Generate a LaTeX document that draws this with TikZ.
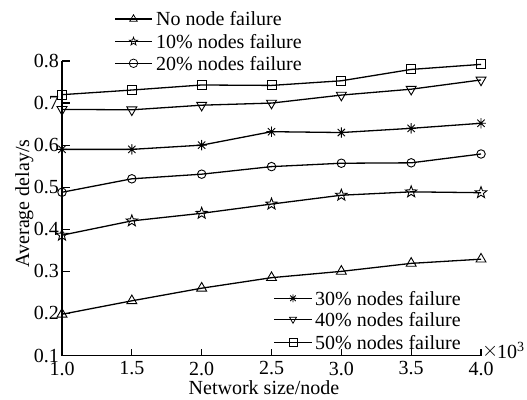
\documentclass[tikz,border=0pt]{standalone}
\usepackage{fontspec}
\setmainfont{Liberation Serif}
\usetikzlibrary{shapes.geometric}
\tikzset{
  mk/.style={draw, inner sep=0pt, line width=0.9pt},
  tri/.style={mk, regular polygon, regular polygon sides=3, minimum size=#1},
  tri/.default=11.5pt,
  dtri/.style={tri=#1, shape border rotate=180},
  dtri/.default=11.5pt,
  sq/.style={mk, rectangle, minimum size=#1},
  sq/.default=9pt,
  circ/.style={mk, circle, minimum size=#1},
  circ/.default=8.5pt,
  pent/.style={mk, star, star points=5, star point ratio=2.4, minimum size=#1},
  pent/.default=12pt,
  ast/.style={inner sep=0pt, circle, minimum size=#1,
    path picture={\draw[line width=0.9pt]
      (path picture bounding box.north) -- (path picture bounding box.south)
      (path picture bounding box.north east) -- (path picture bounding box.south west)
      (path picture bounding box.north west) -- (path picture bounding box.south east)
      (path picture bounding box.west) -- (path picture bounding box.east);}},
  ast/.default=10.5pt,
  keymark/.style={line width=0.75pt},
  series/.style={line width=1.3pt},
  axisline/.style={line width=1.3pt},
  lab/.style={font=\fontsize{20}{23}\selectfont, inner sep=0pt},
}
\begin{document}
\begin{tikzpicture}
\useasboundingbox (0pt,0pt) rectangle (527pt,-399pt);

% plot area: network size (x10^3) against average delay
\begin{scope}[x=139.67pt, y=420.7pt, shift={(-77.67pt,-397.57pt)}]
  \coordinate (o) at (1,0.1);
  \coordinate (xend) at (4,0.1);
  \coordinate (yend) at (1,0.8);
  \draw[axisline] (yend) -- (o) -- (xend);

  % ticks and tick labels
  \foreach \v [count=\i] in {0.1,0.2,0.3,0.4,0.5,0.6,0.7,0.8} {
    \draw[axisline] (1,\v) -- ++(8pt,0pt);
    \node[lab, anchor=east, xshift=-3pt] (yl\i) at (1,\v) {\v};
  }
  \foreach \v [count=\i] in {1.0,1.5,2.0,2.5,3.0,3.5,4.0} {
    \draw[axisline] (\v,0.1) -- ++(0pt,7pt);
    \node[lab, anchor=north, yshift=-6pt] (xl\i) at (\v,0.1) {\v};
  }

  % data series
  \foreach \s/\m/\vals in {
      a/tri/{0.198,0.230,0.260,0.285,0.300,0.319,0.329},
      b/pent/{0.386,0.420,0.438,0.460,0.481,0.489,0.487},
      c/circ/{0.488,0.520,0.531,0.549,0.557,0.558,0.579},
      d/ast/{0.590,0.590,0.600,0.632,0.630,0.640,0.652},
      e/dtri/{0.685,0.684,0.695,0.700,0.719,0.733,0.755},
      f/sq/{0.720,0.731,0.743,0.742,0.753,0.780,0.792}} {
    \foreach \v [count=\i] in \vals {
      \pgfmathsetmacro\xx{0.5+0.5*\i}
      \node[\m] (\s\i) at (\xx,\v) {};
    }
    \draw[series] (\s1.center) \foreach \i in {2,...,7} {-- (\s\i.center)};
  }
\end{scope}

% axis multiplier
\node[lab, anchor=west] (times) at (482pt,-351pt) {$\times$};
\node[lab, anchor=west] (mult) at (497pt,-350.5pt) {10\textsuperscript{3}};
\node[lab, anchor=base] (xtitle) at (264pt,-394pt) {Network size/node};
\node[lab, anchor=base, rotate=90] (ytitle) at (29pt,-203.5pt) {Average delay/s};

% upper legend
\foreach \i/\m/\t/\y in {1/tri/No node failure/19,
                         2/pent/10\% nodes failure/41.5,
                         3/circ/20\% nodes failure/63.3} {
  \coordinate (lu\i a) at (115pt,-\y pt);
  \coordinate (lu\i b) at (152pt,-\y pt);
  \node[\m=8.5pt, keymark] (lu\i m) at (133.5pt,-\y pt) {};
  \node[lab, anchor=west] (lu\i t) at (156pt,-\y pt) {\t};
  \draw[series] (lu\i a) -- (lu\i b);
}

% lower legend
\foreach \i/\m/\t/\y in {1/ast/30\% nodes failure/298.3,
                         2/dtri/40\% nodes failure/319.3,
                         3/sq/50\% nodes failure/342.7} {
  \coordinate (ll\i a) at (274pt,-\y pt);
  \coordinate (ll\i b) at (312pt,-\y pt);
  \node[\m=8pt, keymark] (ll\i m) at (293pt,-\y pt) {};
  \node[lab, anchor=west] (ll\i t) at (315pt,-\y pt) {\t};
  \draw[series] (ll\i a) -- (ll\i b);
}
\end{tikzpicture}
\end{document}
